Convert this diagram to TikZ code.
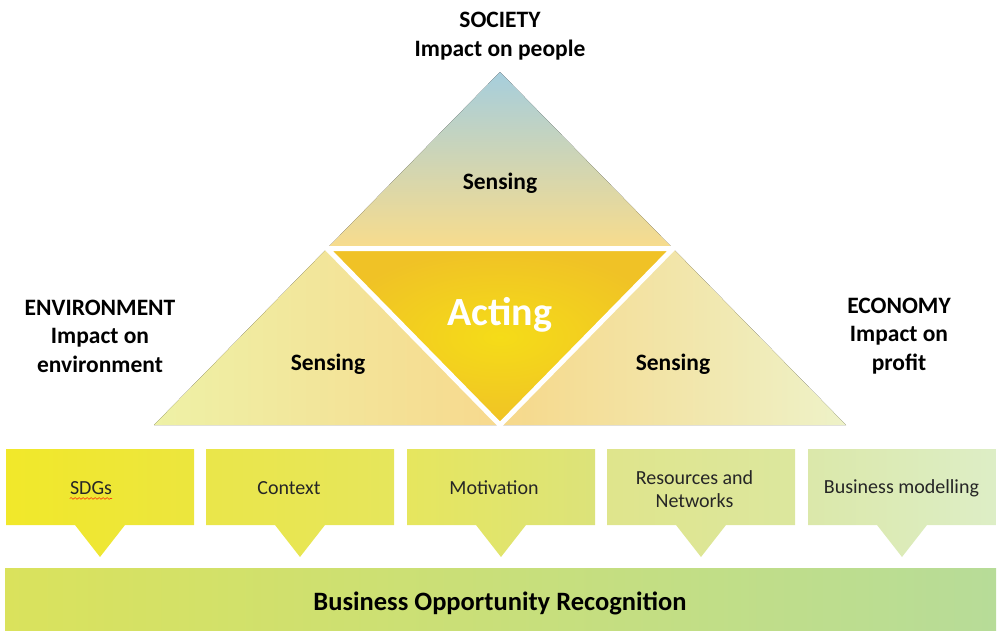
\documentclass[tikz,border=0pt]{standalone}
\usepackage{fontspec}
\setmainfont{Carlito}
\usetikzlibrary{calc}
\usetikzlibrary{shapes.callouts}
\usetikzlibrary{decorations.pathmorphing}

\definecolor{societyblue}{HTML}{A6CEDD}
\definecolor{sensetop}{HTML}{F8DC8C}
\definecolor{senseleft}{HTML}{F7D98E}
\definecolor{envlime}{HTML}{EEF1A6}
\definecolor{senseright}{HTML}{F6D88A}
\definecolor{ecopale}{HTML}{EEF2C8}
\definecolor{actyellow}{HTML}{F5DC18}
\definecolor{actorange}{HTML}{F0C226}
\definecolor{barleft}{HTML}{DAE25C}
\definecolor{barright}{HTML}{B7DC98}
\definecolor{sdgsleft}{HTML}{F1E82A}
\definecolor{sdgsright}{HTML}{ECE63E}
\definecolor{ctxleft}{HTML}{EAE64A}
\definecolor{ctxright}{HTML}{E6E65C}
\definecolor{motleft}{HTML}{E6E65E}
\definecolor{motright}{HTML}{DCE37A}
\definecolor{resleft}{HTML}{DFE58C}
\definecolor{resright}{HTML}{DCE79E}
\definecolor{busleft}{HTML}{DBE8AA}
\definecolor{busright}{HTML}{DDEEC6}

\begin{document}
\begin{tikzpicture}[x=1pt,y=-1pt,
         title/.style = {font=\bfseries\fontsize{23.5}{28.5}\selectfont, align=center},
         sense/.style = {font=\bfseries\fontsize{23.5}{26}\selectfont},
         act/.style = {font=\bfseries\fontsize{40}{44}\selectfont, text=white},
         gap/.style = {white, line width=5pt},
         callbox/.style = {rectangle callout, minimum width=188pt, minimum height=76pt,
            inner sep=0pt, callout pointer width=50pt},
         boxtext/.style = {font=\fontsize{20}{23.5}\selectfont, align=center,
            text=black!85, inner sep=0pt},
         spell/.style = {red, decorate, decoration={snake, amplitude=0.9pt,
            segment length=4pt}},
         bar/.style = {minimum width=991pt, minimum height=62pt, inner sep=0pt,
            left color=barleft, right color=barright},
         bartext/.style = {font=\bfseries\fontsize{26.5}{30}\selectfont, inner sep=0pt}
]
      \useasboundingbox (0,0) rectangle (997,633);

      % pyramid corners
      \coordinate (apex) at (500,72);
      \coordinate (bl)   at (154,425);
      \coordinate (br)   at (846,425);
      \coordinate (ml)   at ($(apex)!0.5!(bl)$);
      \coordinate (mr)   at ($(apex)!0.5!(br)$);
      \coordinate (mb)   at ($(bl)!0.5!(br)$);

      % the four triangles
      \fill[top color=societyblue, bottom color=sensetop] (apex) -- (ml) -- (mr) -- cycle;
      \fill[left color=envlime, right color=senseleft] (ml) -- (bl) -- (mb) -- cycle;
      \fill[left color=senseright, right color=ecopale] (mr) -- (mb) -- (br) -- cycle;
      \shade[inner color=actyellow, outer color=actorange] (ml) -- (mr) -- (mb) -- cycle;
      \draw[gap] (ml) -- (mr) -- (mb) -- cycle;

      \node[sense] (senstop)   at (500,183) {Sensing};
      \node[sense] (sensleft)  at (328,364) {Sensing};
      \node[sense] (sensright) at (673,364) {Sensing};
      \node[act]   (acting)    at (500,315) {Acting};

      % the three pillars
      \node[title] (society) at (500,36)  {SOCIETY\\Impact on people};
      \node[title] (envir)   at (100,336) {ENVIRONMENT\\Impact on\\environment};
      \node[title] (economy) at (899,336) {ECONOMY\\Impact on\\profit};

      % callouts
      \node[callbox, left color=sdgsleft, right color=sdgsright,
         callout absolute pointer={(100,557)}] (c1) at (100,487) {};
      \node[callbox, left color=ctxleft, right color=ctxright,
         callout absolute pointer={(300,557)}] (c2) at (300,487) {};
      \node[callbox, left color=motleft, right color=motright,
         callout absolute pointer={(501,557)}] (c3) at (501,487) {};
      \node[callbox, left color=resleft, right color=resright,
         callout absolute pointer={(701,557)}] (c4) at (701,487) {};
      \node[callbox, left color=busleft, right color=busright,
         callout absolute pointer={(902,557)}] (c5) at (902,487) {};

      \node[boxtext] (sdgs)    at (91,488)    {SDGs};
      \node[boxtext] (context) at (289,488)   {Context};
      \node[boxtext] (motiv)   at (494,488)   {Motivation};
      \node[boxtext] (resnet)  at (694.5,489) {Resources and\\Networks};
      \node[boxtext] (busmod)  at (901.5,488) {Business modelling};
      \draw[spell] ([yshift=-4pt]sdgs.base west) -- ([yshift=-4pt]sdgs.base east);

      % bottom bar
      \node[bar] (bor) at (500.5,599) {};
      \node[bartext] (borlabel) at (500,603) {Business Opportunity Recognition};
\end{tikzpicture}
\end{document}
